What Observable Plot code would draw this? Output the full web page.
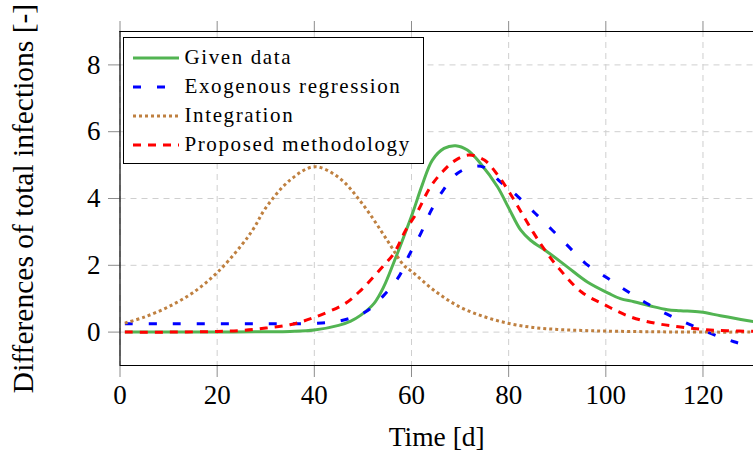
<!DOCTYPE html>
<html>
<head>
<meta charset="utf-8">
<script src="https://cdn.jsdelivr.net/npm/d3@7"></script>
<script src="https://cdn.jsdelivr.net/npm/@observablehq/plot@0.6"></script>
<style>
  html, body { margin: 0; padding: 0; background: #fff; }
  #wrap { position: relative; width: 753px; height: 455px; overflow: hidden; }
  #wrap > svg { position: absolute; left: 0; top: 0; }
  [aria-label="x-axis tick"], [aria-label="y-axis tick"] { stroke: #8c8c8c; }
  #legend {
    position: absolute; left: 122.5px; top: 36.5px; width: 301px; height: 127px;
    border: 1px solid #000; background: #fff; box-sizing: border-box;
    font-family: "Liberation Serif", serif; font-size: 21px; letter-spacing: 1.6px; color: #000;
  }
  .row { position: absolute; left: 0; height: 24px; display: flex; align-items: center; white-space: nowrap; }
  .row svg { display: block; margin-left: 9px; margin-right: 6px; }
</style>
</head>
<body>
<div id="wrap"></div>
<script>
// ---- data ----
const givenT = [1, 10, 20, 30, 35, 40, 45, 47.5, 49.5, 52.3, 54.3, 56.4, 58.4, 60.2, 62.2, 64.3, 66.7, 69.1, 71.5, 74.2, 77.7, 80, 82.5, 84.5, 88, 92, 96.2, 100.6, 103, 105.8, 109.2, 112.7, 115.4, 119.5, 123.6, 127.8, 131];
const givenV = [0, 0, 0, 0.01, 0.02, 0.06, 0.2, 0.33, 0.5, 0.86, 1.36, 2.1, 2.85, 3.55, 4.4, 5.15, 5.5, 5.58, 5.45, 5.05, 4.35, 3.72, 3.05, 2.75, 2.4, 1.96, 1.5, 1.16, 1.0, 0.91, 0.78, 0.67, 0.64, 0.6, 0.49, 0.38, 0.3];

const exoT = [1, 10, 20, 30, 40, 45.4, 50.5, 54.3, 57.4, 59.5, 61.9, 63.9, 66.3, 69.4, 73, 75, 78.3, 81.8, 85.5, 89, 92.4, 95.8, 100, 104, 108.2, 112.7, 117.1, 121.6, 126.4, 131];
const exoV = [0.25, 0.25, 0.25, 0.25, 0.26, 0.34, 0.6, 1.1, 1.66, 2.3, 2.95, 3.6, 4.2, 4.75, 4.97, 4.93, 4.5, 4.07, 3.55, 3.05, 2.55, 2.06, 1.65, 1.26, 0.88, 0.53, 0.24, -0.04, -0.29, -0.48];

const integT = [1, 5, 10, 15, 20, 25, 27.5, 30, 35, 40, 45, 50, 55, 58.4, 60, 65, 70, 75, 80, 85, 90, 95, 100, 110, 120, 131];
const integV = [0.27, 0.45, 0.76, 1.18, 1.78, 2.6, 3.1, 3.72, 4.55, 4.95, 4.63, 3.82, 2.75, 2.0, 1.82, 1.21, 0.75, 0.46, 0.26, 0.14, 0.08, 0.05, 0.03, 0.01, 0.0, 0.0];

const propT = [1, 10, 20, 25, 30, 35, 40, 46.4, 49.2, 51.6, 54.3, 56.4, 58.8, 61.2, 63.9, 66.7, 69.1, 71.8, 75, 78, 80.3, 85, 87.5, 90, 95, 100, 105, 110, 115, 120, 125, 131];
const propV = [0, 0, 0.02, 0.05, 0.12, 0.22, 0.44, 0.86, 1.2, 1.56, 2.0, 2.36, 3.05, 3.6, 4.35, 4.85, 5.15, 5.3, 5.15, 4.65, 4.15, 3.0, 2.45, 1.97, 1.2, 0.8, 0.46, 0.27, 0.16, 0.08, 0.04, 0.02];

const xTicks = [0, 20, 40, 60, 80, 100, 120];
const yTicks = [0, 2, 4, 6, 8];
const seriesNames = ["Given data", "Exogenous regression", "Integration", "Proposed methodology"];
const seriesColors = ["#52b452", "#0000ff", "#bf8040", "#ff0000"];
const seriesDash = [null, "8,16", "3,3", "8,7"];

const toRows = (T, V) => T.map((t, i) => ({t, v: V[i]}));
const given = toRows(givenT, givenV);
const exo = toRows(exoT, exoV);
const integ = toRows(integT, integV);
const prop = toRows(propT, propV);

const font = "Liberation Serif, serif";
const gridStyle = {stroke: "#cfcfcf", strokeOpacity: 1, strokeWidth: 1, strokeDasharray: "6,5"};
const lineOpts = (i) => ({x: "t", y: "v", stroke: seriesColors[i], strokeWidth: 3, curve: "catmull-rom", clip: true,
  strokeDasharray: seriesDash[i] || undefined, strokeLinecap: "butt"});

const plot = Plot.plot({
  width: 753, height: 455,
  marginLeft: 119.5, marginRight: 0, marginTop: 31, marginBottom: 90,
  style: {fontFamily: font, fontSize: "27px", background: "transparent", color: "#000"},
  x: {domain: [0, 130.4], ticks: xTicks},
  y: {domain: [-1, 9], ticks: yTicks},
  marks: [
    Plot.gridX(xTicks, gridStyle),
    Plot.gridY(yTicks, gridStyle),
    Plot.axisX(xTicks, {anchor: "top", tickSize: 11, tickFormat: () => "", label: null}),
    Plot.axisX(xTicks, {anchor: "bottom", tickSize: 12, tickPadding: 7, label: null}),
    Plot.axisY(yTicks, {anchor: "left", tickSize: 11.5, tickPadding: 8, label: null}),
    Plot.line(given, lineOpts(0)),
    Plot.line(exo, lineOpts(1)),
    Plot.line(integ, lineOpts(2)),
    Plot.line(prop, lineOpts(3)),
    Plot.ruleX([0], {stroke: "#000", strokeWidth: 1.2}),
    Plot.ruleY([-1, 9], {stroke: "#000", strokeWidth: 1.2}),
    Plot.text(["Time [d]"], {frameAnchor: "bottom", textAnchor: "middle", dy: 80, fontSize: 27.5, fill: "#000"}),
    Plot.text(["Differences of total infections [-]"], {frameAnchor: "left", textAnchor: "middle", dx: -96, rotate: -90, fontSize: 29.5, fill: "#000"})
  ]
});

const wrap = document.getElementById("wrap");
wrap.appendChild(plot);

// legend
const legend = document.createElement("div");
legend.id = "legend";
const rowTops = [8, 37, 66, 95];
seriesNames.forEach((name, i) => {
  const row = document.createElement("div");
  row.className = "row";
  row.style.top = rowTops[i] + "px";
  const ns = "http://www.w3.org/2000/svg";
  const s = document.createElementNS(ns, "svg");
  s.setAttribute("width", 46); s.setAttribute("height", 10);
  const ln = document.createElementNS(ns, "line");
  ln.setAttribute("x1", 0); ln.setAttribute("x2", 46); ln.setAttribute("y1", 5); ln.setAttribute("y2", 5);
  ln.setAttribute("stroke", seriesColors[i]); ln.setAttribute("stroke-width", 3);
  if (seriesDash[i]) ln.setAttribute("stroke-dasharray", seriesDash[i]);
  s.appendChild(ln);
  row.appendChild(s);
  const sp = document.createElement("span");
  sp.textContent = name;
  row.appendChild(sp);
  legend.appendChild(row);
});
wrap.appendChild(legend);
</script>
</body>
</html>
